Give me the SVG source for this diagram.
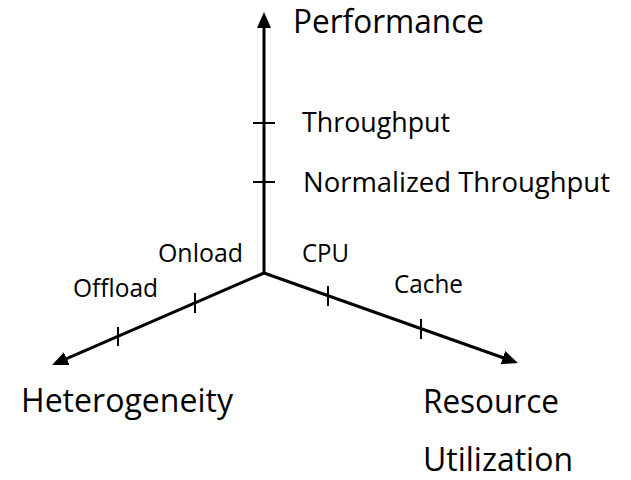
<svg xmlns="http://www.w3.org/2000/svg" width="631" height="480" viewBox="0 0 631 480">
<style>
.ax{stroke:#000;stroke-width:3;fill:none}
.tk{stroke:#000;stroke-width:2;fill:none}
.big{font-family:"Open Sans","Noto Sans",sans-serif;font-size:32px;fill:#000}
.sm{font-family:"Open Sans","Noto Sans",sans-serif;font-size:27px;fill:#000}
.xs{font-family:"Open Sans","Noto Sans",sans-serif;font-size:25px;fill:#000}
</style>
<defs>
<marker id="arr" markerUnits="userSpaceOnUse" markerWidth="16" markerHeight="14" refX="7" refY="7" orient="auto">
<path d="M0,0 L16,7 L0,14 z" fill="#000"/>
</marker>
</defs>
<rect width="631" height="480" fill="#fff"/>
<g id="connectors">
<line class="ax" x1="264" y1="273" x2="264" y2="21" marker-end="url(#arr)"/>
<line class="ax" x1="264" y1="273" x2="60.3" y2="361.4" marker-end="url(#arr)"/>
<line class="ax" x1="264" y1="273" x2="509.5" y2="360" marker-end="url(#arr)"/>
<line class="tk" x1="253" y1="123" x2="275" y2="123"/>
<line class="tk" x1="253" y1="182" x2="275" y2="182"/>
<line class="tk" x1="195" y1="293" x2="195" y2="313"/>
<line class="tk" x1="118" y1="327" x2="118" y2="346"/>
<line class="tk" x1="328" y1="286" x2="328" y2="306"/>
<line class="tk" x1="421" y1="319" x2="421" y2="339"/>
</g>
<g id="performance"><text class="big" x="293" y="33" textLength="191" lengthAdjust="spacingAndGlyphs">Performance</text></g>
<g id="throughput"><text class="sm" x="302" y="132" textLength="148" lengthAdjust="spacingAndGlyphs">Throughput</text></g>
<g id="normalized-throughput"><text class="sm" x="303" y="192" textLength="307" lengthAdjust="spacingAndGlyphs">Normalized Throughput</text></g>
<g id="onload"><text class="xs" x="158" y="262" textLength="85" lengthAdjust="spacingAndGlyphs">Onload</text></g>
<g id="offload"><text class="xs" x="73" y="297" textLength="85" lengthAdjust="spacingAndGlyphs">Offload</text></g>
<g id="cpu"><text class="xs" x="302" y="262" textLength="47" lengthAdjust="spacingAndGlyphs">CPU</text></g>
<g id="cache"><text class="xs" x="394" y="293" textLength="69" lengthAdjust="spacingAndGlyphs">Cache</text></g>
<g id="heterogeneity"><text class="big" x="21" y="412" textLength="212" lengthAdjust="spacingAndGlyphs">Heterogeneity</text></g>
<g id="resource-utilization"><text class="big" x="423" y="413" textLength="136" lengthAdjust="spacingAndGlyphs">Resource</text><text class="big" x="423" y="471" textLength="150" lengthAdjust="spacingAndGlyphs">Utilization</text></g>
</svg>
